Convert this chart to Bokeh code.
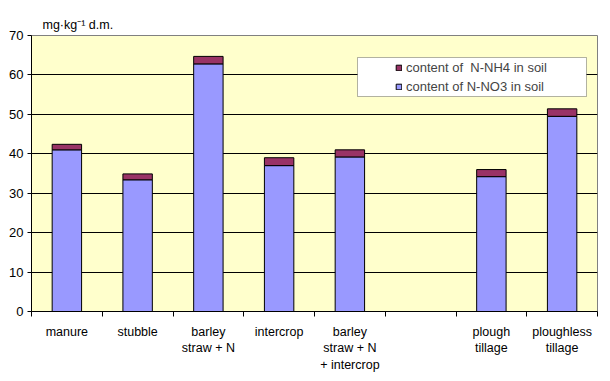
from bokeh.plotting import figure
from bokeh.models import (ColumnDataSource, Range1d, FixedTicker, Legend, LegendItem,
                          BoxAnnotation)
from bokeh.embed import file_html
from bokeh.resources import INLINE

categories = ["manure", "stubble", "barley\nstraw + N", "intercrop",
              "barley\nstraw + N\n+ intercrop", "", "plough\ntillage", "ploughless\ntillage"]
no3 = [41.0, 33.4, 62.8, 37.0, 39.2, None, 34.2, 49.5]
nh4 = [1.4, 1.5, 1.9, 2.0, 1.8, None, 1.8, 1.9]
y_ticks = [0, 10, 20, 30, 40, 50, 60, 70]
unit_label = "mg·kg⁻¹ d.m."
legend_labels = ["content of  N-NH4 in soil", "content of N-NO3 in soil"]

FONT = "Liberation Sans"
n = len(categories)
centers = [i + 0.5 for i in range(n)]
idx = [i for i in range(n) if no3[i] is not None]
src = ColumnDataSource(dict(
    x=[centers[i] for i in idx],
    no3=[no3[i] for i in idx],
    tot=[no3[i] + nh4[i] for i in idx],
))

p = figure(width=610, height=381, output_backend="svg", toolbar_location=None,
           x_range=Range1d(0, n), y_range=Range1d(0, 70),
           min_border_left=31, min_border_right=13, min_border_top=35, min_border_bottom=70,
           title=unit_label)
p.background_fill_color = "#FFFFCC"
p.border_fill_color = "white"
p.outline_line_color = "#808080"
p.outline_line_width = 1

p.title.text_font = FONT
p.title.text_font_size = "12.5px"
p.title.text_font_style = "normal"
p.title.text_color = "black"
p.title.offset = 11
p.title.standoff = 8

r_no3 = p.vbar(x="x", width=0.416, bottom=0, top="no3", source=src,
               fill_color="#9999FF", line_color="black", line_width=1)
r_nh4 = p.vbar(x="x", width=0.416, bottom="no3", top="tot", source=src,
               fill_color="#993366", line_color="black", line_width=1)

# x axis
xa = p.xaxis[0]
xa.ticker = FixedTicker(ticks=centers, minor_ticks=list(range(n + 1)))
xa.major_label_overrides = {c: lab for c, lab in zip(centers, categories)}
xa.major_tick_out = 0
xa.major_tick_in = 0
xa.minor_tick_out = 5
xa.minor_tick_in = 0
xa.minor_tick_line_color = "black"
xa.axis_line_color = "black"
xa.major_label_standoff = 8
xa.major_label_text_font = FONT
xa.major_label_text_font_size = "12.5px"
xa.major_label_text_color = "black"
xa.major_label_text_align = "center"

# y axis
ya = p.yaxis[0]
ya.ticker = FixedTicker(ticks=y_ticks)
ya.major_tick_out = 4
ya.major_tick_in = 0
ya.minor_tick_line_color = None
ya.axis_line_color = "black"
ya.major_tick_line_color = "black"
ya.major_label_standoff = 4
ya.major_label_text_font = FONT
ya.major_label_text_font_size = "13px"
ya.major_label_text_color = "black"

p.xgrid.grid_line_color = None
p.ygrid.grid_line_color = "black"
p.ygrid.grid_line_width = 1
p.ygrid.ticker = FixedTicker(ticks=y_ticks[1:])

# legend box
box = BoxAnnotation(left=357, right=586, top=57, bottom=96,
                    left_units="canvas", right_units="canvas",
                    top_units="canvas", bottom_units="canvas",
                    fill_color="white", fill_alpha=1.0,
                    line_color="black", line_width=1, level="annotation")
p.add_layout(box)

legend = Legend(items=[LegendItem(label=legend_labels[0], renderers=[r_nh4]),
                       LegendItem(label=legend_labels[1], renderers=[r_no3])],
                location=(364, 217), orientation="vertical",
                background_fill_alpha=0, border_line_color=None,
                label_text_font=FONT, label_text_font_size="13px",
                glyph_width=7, glyph_height=7, label_standoff=4,
                padding=2, spacing=4, label_height=15, margin=0)
p.add_layout(legend)

open("out.html", "w").write(file_html(p, INLINE))
